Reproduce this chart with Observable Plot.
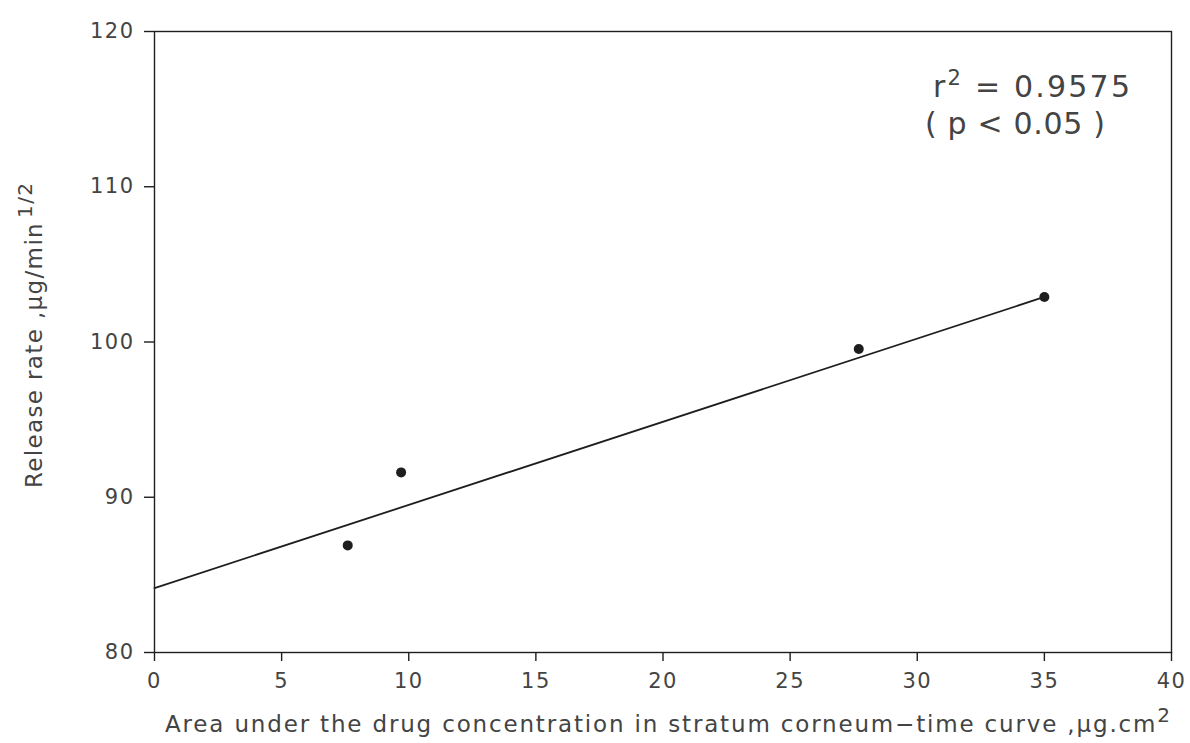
<!DOCTYPE html>
<html>
<head>
<meta charset="utf-8">
<script src="https://cdn.jsdelivr.net/npm/d3@7"></script>
<script src="https://cdn.jsdelivr.net/npm/@observablehq/plot@0.6"></script>
<style>
  html, body { margin: 0; padding: 0; background: #fff; }
  #chart { width: 1190px; height: 743px; }
</style>
</head>
<body>
<div id="chart"></div>
<script>
// Data
const aucValues = [7.6, 9.7, 27.7, 35.0];          // Area under curve, µg.cm²
const releaseValues = [86.9, 91.6, 99.55, 102.9];  // Release rate, µg/min^1/2
const fitX = [0, 35];
const fitY = [84.15, 102.9];
const xTicks = [0, 5, 10, 15, 20, 25, 30, 35, 40];
const yTicks = [80, 90, 100, 110, 120];
const rSquaredText = "0.9575";
const pText = "( p < 0.05 )";

const points = aucValues.map((x, i) => ({x, y: releaseValues[i]}));
const fit = fitX.map((x, i) => ({x, y: fitY[i]}));

const ink = "#1e1e1e";
const textInk = "#444";
const font = "DejaVu Sans";

const svg = Plot.plot({
  width: 1190,
  height: 743,
  marginLeft: 154,
  marginRight: 19,
  marginTop: 31,
  marginBottom: 91,
  style: {fontFamily: font, color: textInk, background: "#fff"},
  x: {domain: [0, 40]},
  y: {domain: [80, 120]},
  marks: [
    Plot.axisX({ticks: xTicks, tickSize: 9, tickPadding: 12, fontSize: 21, label: null,
                tickFormat: d => String(d), stroke: ink, strokeWidth: 1.4, fill: textInk}),
    Plot.axisY({ticks: yTicks, tickSize: 10, tickPadding: 10, fontSize: 21, label: null,
                tickFormat: d => String(d), stroke: ink, strokeWidth: 1.4, fill: textInk}),
    Plot.frame({stroke: ink, strokeWidth: 1.4}),
    Plot.line(fit, {x: "x", y: "y", stroke: ink, strokeWidth: 1.8}),
    Plot.dot(points, {x: "x", y: "y", r: 5, fill: ink, stroke: "none"})
  ]
});

const s = d3.select(svg);
s.selectAll("[aria-label*='tick label'] text").style("letter-spacing", "1.5px");

function addText(attrs, size) {
  const t = s.append("text")
    .attr("font-family", font).attr("fill", textInk).attr("text-anchor", "start")
    .attr("lengthAdjust", "spacing").style("font-size", size + "px");
  for (const k in attrs) t.attr(k, attrs[k]);
  return t;
}

// X axis title
const xt = addText({x: 165, y: 732, textLength: 1005}, 23);
xt.append("tspan").text("Area under the drug concentration in stratum corneum\u2212time curve ,\u03bcg.cm");
xt.append("tspan").attr("dy", "-0.5em").style("font-size", "20px").text("2");

// Y axis title
const yt = addText({transform: "translate(42,488) rotate(-90)", textLength: 305}, 23);
yt.append("tspan").text("Release rate ,\u03bcg/min");
yt.append("tspan").attr("dx", 4).attr("dy", "-0.5em").style("font-size", "20px").text("1/2");

// Annotation
const a1 = addText({x: 933, y: 97, textLength: 197}, 30);
a1.append("tspan").text("r");
a1.append("tspan").attr("dy", "-0.55em").style("font-size", "21px").text("2");
a1.append("tspan").attr("dy", "0.385em").text(" = " + rSquaredText);

addText({x: 925, y: 134, textLength: 180}, 30).text(pText);

document.getElementById("chart").appendChild(svg);
</script>
</body>
</html>
